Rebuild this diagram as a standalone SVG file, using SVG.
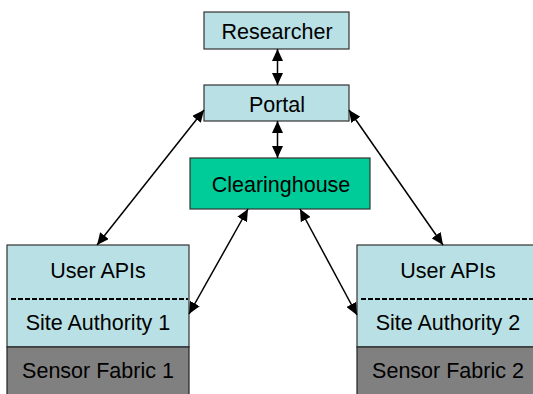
<svg xmlns="http://www.w3.org/2000/svg" width="533" height="394" viewBox="0 0 533 394">
<defs>
<marker id="ah" viewBox="0 0 12 11" refX="12" refY="5.5" markerWidth="12" markerHeight="11" markerUnits="userSpaceOnUse" orient="auto-start-reverse">
<path d="M0,0 L12,5.5 L0,11 z" fill="#000"/>
</marker>
<style>
.box{fill:#B9E0E4;stroke:#333;stroke-width:1.2}
.ch{fill:#00CC99;stroke:#333;stroke-width:1.2}
.gray{fill:#808080;stroke:#222;stroke-width:1.2}
.t{font-family:"Liberation Sans",Arial,sans-serif;font-size:21.5px;fill:#000;text-anchor:middle}
.c{stroke:#000;stroke-width:1.5;fill:none;marker-start:url(#ah);marker-end:url(#ah)}
.dash{stroke:#000;stroke-width:1.8;stroke-dasharray:5,2}
</style>
</defs>
<rect width="533" height="394" fill="#fff"/>
<g id="researcher">
<rect class="box" x="204" y="12" width="145" height="37"/>
<text class="t" x="277" y="39">Researcher</text>
</g>
<g id="portal">
<rect class="box" x="204" y="85" width="145" height="36"/>
<text class="t" x="277" y="112">Portal</text>
</g>
<g id="clearinghouse">
<rect class="ch" x="190" y="158" width="180" height="51"/>
<text class="t" x="281" y="192">Clearinghouse</text>
</g>
<g id="site1">
<rect class="box" x="7" y="245" width="182" height="102"/>
<line class="dash" x1="11" y1="299" x2="188" y2="299"/>
<text class="t" x="98" y="278">User APIs</text>
<text class="t" x="98" y="330">Site Authority 1</text>
<rect class="gray" x="7" y="347" width="182" height="50"/>
<text class="t" x="98" y="378">Sensor Fabric 1</text>
</g>
<g id="site2">
<rect class="box" x="357" y="245" width="182" height="102"/>
<line class="dash" x1="361" y1="299" x2="538" y2="299"/>
<text class="t" x="448" y="278">User APIs</text>
<text class="t" x="448" y="330">Site Authority 2</text>
<rect class="gray" x="357" y="347" width="182" height="50"/>
<text class="t" x="448" y="378">Sensor Fabric 2</text>
</g>
<g id="connectors">
<line class="c" x1="277.5" y1="49" x2="277.5" y2="85"/>
<line class="c" x1="277.5" y1="121" x2="277.5" y2="158"/>
<line class="c" x1="204" y1="110" x2="97" y2="245"/>
<line class="c" x1="349" y1="110" x2="443" y2="245"/>
<line class="c" x1="248" y1="209" x2="189" y2="314"/>
<line class="c" x1="300" y1="209" x2="357" y2="315"/>
</g>
</svg>
